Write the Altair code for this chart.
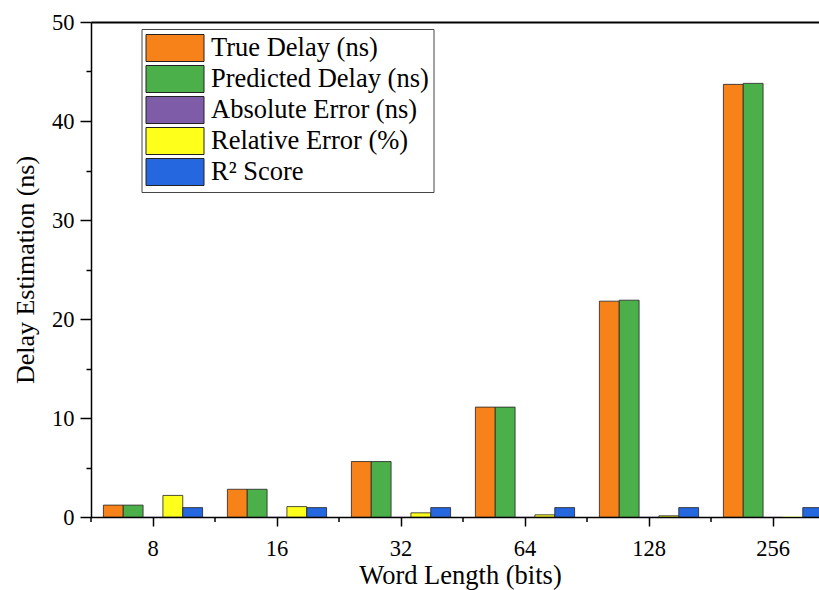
import altair as alt
import pandas as pd

# Word lengths (bits) on the x axis
word_lengths = ["8", "16", "32", "64", "128", "256"]

# Series values per word length
true_delay = [1.2, 2.8, 5.6, 11.1, 21.8, 43.7]
predicted_delay = [1.2, 2.8, 5.6, 11.1, 21.9, 43.8]
absolute_error = [0.026, 0.029, 0.024, 0.024, 0.026, 0.013]
relative_error = [2.18, 1.05, 0.42, 0.22, 0.12, 0.03]
r2_score = [0.95, 0.95, 0.95, 0.95, 0.95, 0.95]

series_names = [
    "True Delay (ns)",
    "Predicted Delay (ns)",
    "Absolute Error (ns)",
    "Relative Error (%)",
    "R² Score",
]
series_colors = ["#F8821A", "#4BAF4A", "#7E5CA8", "#FFFF1C", "#2567DE"]
y_ticks = [0, 5, 10, 15, 20, 25, 30, 35, 40, 45, 50]

rows = []
for name, values in zip(
    series_names,
    [true_delay, predicted_delay, absolute_error, relative_error, r2_score],
):
    for w, v in zip(word_lengths, values):
        rows.append({"word": w, "series": name, "value": v})
df = pd.DataFrame(rows)
cats = pd.DataFrame({"word": word_lengths})

SERIF = "Liberation Serif"
PLOT_W, PLOT_H = 728, 495
STEP = 124

x_scale = alt.Scale(domain=word_lengths, range=[0, 6 * STEP],
                    paddingInner=0.2, paddingOuter=0.1)

bars = alt.Chart(df).mark_bar(clip=True, stroke="#222222").encode(
    x=alt.X(
        "word:N",
        scale=x_scale,
        sort=word_lengths,
        axis=alt.Axis(
            title="Word Length (bits)",
            labelAngle=0,
            labelFont=SERIF,
            labelFontSize=22.5,
            labelColor="#000",
            labelPadding=11,
            tickSize=9,
            tickWidth=1.5,
            tickColor="#000",
            domainColor="#000",
            domainWidth=1.5,
            titleFont=SERIF,
            titleFontSize=26.5,
            titleFontWeight="normal",
            titleColor="#000",
            titleX=369,
            titleY=58,
            titleBaseline="middle",
            grid=False,
        ),
    ),
    xOffset=alt.XOffset("series:N", sort=series_names,
                        scale=alt.Scale(domain=series_names, paddingInner=0)),
    y=alt.Y(
        "value:Q",
        scale=alt.Scale(domain=[0, 50], nice=False),
        axis=alt.Axis(
            title="Delay Estimation (ns)",
            values=y_ticks,
            labelExpr="datum.value % 10 == 0 ? datum.label : ''",
            tickSize={"condition": {"test": "datum.value % 10 != 0", "value": 5},
                      "value": 11},
            tickWidth=1.5,
            tickColor="#000",
            labelFont=SERIF,
            labelFontSize=22.5,
            labelColor="#000",
            labelPadding=6,
            domainColor="#000",
            domainWidth=1.5,
            titleFont=SERIF,
            titleFontSize=26,
            titleFontWeight="normal",
            titleColor="#000",
            titleX=-66,
            titleY=PLOT_H / 2,
            titleAngle=270,
            titleBaseline="middle",
            grid=False,
        ),
    ),
    color=alt.Color(
        "series:N",
        sort=series_names,
        scale=alt.Scale(domain=series_names, range=series_colors),
        legend=alt.Legend(
            title=None,
            orient="none",
            legendX=50.5,
            legendY=7,
            padding=4,
            strokeColor="#444",
            fillColor="white",
            # wide swatch drawn to the right of the symbol anchor
            symbolType="M-1,-0.931H3V0.931H-1Z",
            symbolSize=841,
            symbolStrokeColor="#222",
            symbolStrokeWidth=1,
            symbolOpacity=1,
            labelFont=SERIF,
            labelFontSize=26.5,
            labelColor="#000",
            labelOffset=35.5,
            labelLimit=400,
            rowPadding=-1.35,
        ),
    ),
    strokeWidth=alt.condition("datum.value < 0.05", alt.value(0), alt.value(0.8)),
)

# Minor ticks on the x axis, midway between word-length groups
minor_ticks = alt.Chart(cats).mark_rule(
    color="#000", strokeWidth=1.5, xOffset=-0.1 * STEP
).encode(
    x=alt.X("word:N", scale=x_scale, sort=word_lengths, bandPosition=0,
            axis=alt.Axis(orient="top", title=None, labels=False, ticks=False,
                          domainColor="#000", domainWidth=2, grid=False)),
    y=alt.value(PLOT_H),
    y2=alt.value(PLOT_H + 5),
)

chart = (
    alt.layer(bars, minor_ticks)
    .resolve_axis(x="independent")
    .properties(
        width=PLOT_W,
        height=PLOT_H,
        padding={"left": 91, "top": 22, "right": 0, "bottom": 73},
        autosize=alt.AutoSizeParams(type="none"),
        background="white",
    )
    .configure_view(stroke=None)
)

chart.save("out.html", embed_options={"renderer": "svg", "actions": False})
